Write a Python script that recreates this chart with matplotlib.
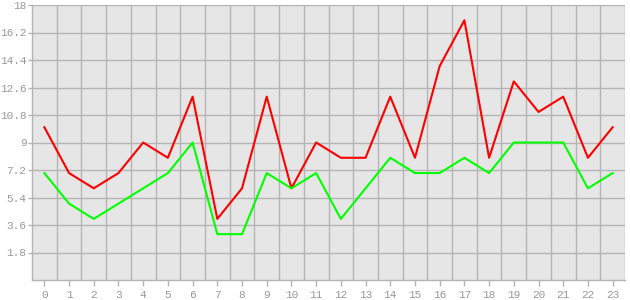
import matplotlib
matplotlib.use("Agg")
from matplotlib import pyplot as plt

hours = list(range(24))
red = [10, 7, 6, 7, 9, 8, 12, 4, 6, 12, 6, 9, 8, 8, 12, 8, 14, 17, 8, 13, 11, 12, 8, 10]
green = [7, 5, 4, 5, 6, 7, 9, 3, 3, 7, 6, 7, 4, 6, 8, 7, 7, 8, 7, 9, 9, 9, 6, 7]
yticks = [1.8, 3.6, 5.4, 7.2, 9, 10.8, 12.6, 14.4, 16.2, 18]
ylabels = ["1.8", "3.6", "5.4", "7.2", "9", "10.8", "12.6", "14.4", "16.2", "18"]

grid_c = "#b4b4b4"
text_c = "#999999"

fig = plt.figure(figsize=(6.3, 3), dpi=100)
ax = fig.add_axes([32 / 630, 20 / 300, 593 / 630, 275 / 300])
ax.set_facecolor("#e6e6e6")

ax.plot(hours, red, color="#ff0000", lw=1.5, zorder=3)
ax.plot(hours, green, color="#00ff00", lw=1.5, zorder=3)

ax.set_xlim(-0.5, 23.5)
ax.set_ylim(0, 18)

ax.set_xticks(hours)
ax.set_xticklabels([str(h) for h in hours])
ax.set_yticks(yticks)
ax.set_yticklabels(ylabels)

for h in range(0, 24):
    ax.axvline(h + 0.5, color=grid_c, lw=1, zorder=1)
for y in yticks:
    ax.axhline(y, color=grid_c, lw=1, zorder=1)

for s in ["top", "right"]:
    ax.spines[s].set_visible(False)
for s in ["left", "bottom"]:
    ax.spines[s].set_color(grid_c)
    ax.spines[s].set_linewidth(1)

ax.tick_params(axis="both", which="major", colors=grid_c, labelcolor=text_c,
               labelsize=8, width=1)
ax.tick_params(axis="y", length=3, pad=1)
ax.tick_params(axis="x", length=4, pad=3)
for lab in ax.get_xticklabels() + ax.get_yticklabels():
    lab.set_family("Liberation Mono")

fig.savefig("out.png", dpi=100, facecolor="white")
